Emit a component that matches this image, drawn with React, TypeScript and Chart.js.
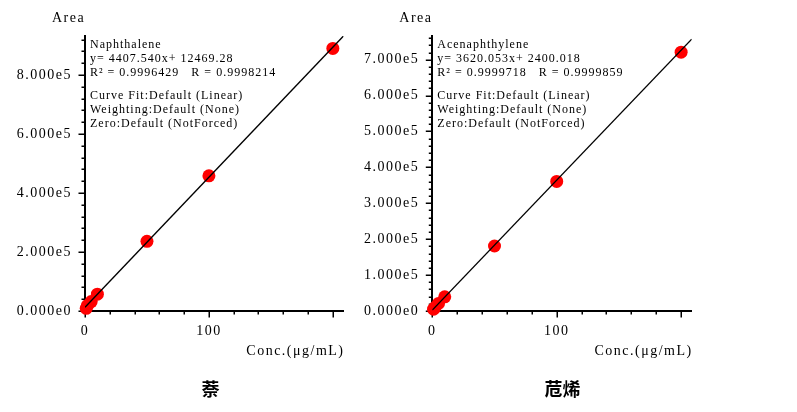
import React, { useEffect, useRef } from 'react';
import { Chart, registerables } from 'chart.js';

Chart.register(...registerables);

// ---------- data ----------
const concentrations = [1, 2, 5, 10, 50, 100, 200];
const naphthaleneAreas = [9000, 19000, 32000, 57000, 236000, 458000, 890000];
const acenaphthyleneAreas = [5000, 9500, 21000, 39500, 181000, 361000, 721000];

// calibration (fit) line end points
const naphFitX = [0, 208.6];
const naphFitY = [12469, 932000];
const acenFitX = [0, 208.5];
const acenFitY = [2400, 757200];

const xTickValues = [0, 100, 200];
const xTickLabels = ['0', '100', ''];
const naphYTickValues = [0, 200000, 400000, 600000, 800000];
const naphYTickLabels = ['0.000e0', '2.000e5', '4.000e5', '6.000e5', '8.000e5'];
const acenYTickValues = [0, 100000, 200000, 300000, 400000, 500000, 600000, 700000];
const acenYTickLabels = ['0.000e0', '1.000e5', '2.000e5', '3.000e5', '4.000e5', '5.000e5', '6.000e5', '7.000e5'];

const naphInfo = ['Naphthalene', 'y= 4407.540x+ 12469.28', 'R² = 0.9996429   R = 0.9998214'];
const acenInfo = ['Acenaphthylene', 'y= 3620.053x+ 2400.018', 'R² = 0.9999718   R = 0.9999859'];
const fitSettings = ['Curve Fit:Default (Linear)', 'Weighting:Default (None)', 'Zero:Default (NotForced)'];

const yAxisTitle = 'Area';
const xAxisTitle = 'Conc.(μg/mL)';

const SERIF = '"Liberation Serif", "DejaVu Serif", serif';

type PanelProps = {
  left: number;
  width: number;
  padRight: number;
  yWidth: number;
  xMax: number;
  yMax: number;
  yStep: number;
  yMinor: number;
  xs: number[];
  ys: number[];
  fitX: number[];
  fitY: number[];
  yTicks: number[];
  yLabels: string[];
  info: string[];
  title: string;
  titleX: number;
};

function Panel(p: PanelProps) {
  const ref = useRef<HTMLCanvasElement | null>(null);
  useEffect(() => {
    const canvas = ref.current;
    if (!canvas) return;
    const decor = {
      id: 'decor',
      beforeDraw(chart: any) {
        (chart.ctx as any).letterSpacing = '1.5px';
      },
      beforeDatasetsDraw(chart: any) {
        const ctx = chart.ctx as CanvasRenderingContext2D;
        const { chartArea } = chart;
        const xs = chart.scales.x;
        const ys = chart.scales.y;
        ctx.save();
        ctx.strokeStyle = '#000';
        ctx.lineWidth = 1.5;
        ctx.beginPath();
        for (let v = 0; v <= p.xMax + 1e-9; v += 20) {
          const px = Math.round(xs.getPixelForValue(v)) + 0.25;
          const len = Math.abs(v % 100) < 1e-6 ? 6.5 : 3.5;
          ctx.moveTo(px, chartArea.bottom);
          ctx.lineTo(px, chartArea.bottom + len);
        }
        for (let v = 0; v <= p.yMax + 1e-6; v += p.yMinor) {
          const py = Math.round(ys.getPixelForValue(v)) + 0.25;
          const major = Math.abs(v / p.yStep - Math.round(v / p.yStep)) < 1e-6;
          const len = major ? 6.5 : 3.5;
          ctx.moveTo(chartArea.left - len, py);
          ctx.lineTo(chartArea.left, py);
        }
        ctx.stroke();
        ctx.restore();
      },
      afterDraw(chart: any) {
        const ctx = chart.ctx as CanvasRenderingContext2D;
        const { chartArea } = chart;
        ctx.save();
        ctx.fillStyle = '#000';
        (ctx as any).letterSpacing = '1.5px';
        ctx.font = `14px ${SERIF}`;
        ctx.textBaseline = 'middle';
        ctx.textAlign = 'left';
        ctx.fillText(yAxisTitle, chartArea.left - 33, 18);
        ctx.textAlign = 'right';
        ctx.fillText(xAxisTitle, chartArea.right + 1, 351);
        // annotation block
        (ctx as any).letterSpacing = '1px';
        ctx.font = `12px ${SERIF}`;
        ctx.textAlign = 'left';
        const lines = [...p.info, ...fitSettings];
        const yPos = [44.5, 58.5, 72.5, 95.5, 109.5, 124];
        lines.forEach((t, i) => ctx.fillText(t, chartArea.left + 5, yPos[i]));
        // chinese title
        (ctx as any).letterSpacing = '0px';
        ctx.font = 'bold 18px "Noto Sans CJK SC", sans-serif';
        ctx.textAlign = 'center';
        ctx.fillText(p.title, p.titleX, 389);
        ctx.restore();
      },
    };

    const chart = new Chart(canvas, {
      type: 'scatter',
      data: {
        datasets: [
          {
            type: 'line',
            data: p.fitX.map((x, i) => ({ x, y: p.fitY[i] })),
            borderColor: '#000',
            borderWidth: 1.4,
            pointRadius: 0,
            fill: false,
          } as any,
          {
            data: p.xs.map((x, i) => ({ x, y: p.ys[i] })),
            backgroundColor: '#ff0000',
            borderWidth: 0,
            pointRadius: 6.5,
            clip: false,
          } as any,
        ],
      },
      options: {
        responsive: false,
        animation: false,
        events: [],
        layout: { padding: { top: 36, right: p.padRight, left: 0, bottom: 0 } },
        plugins: { legend: { display: false }, tooltip: { enabled: false }, title: { display: false } },
        scales: {
          x: {
            type: 'linear',
            min: 0,
            max: p.xMax,
            bounds: 'data',
            grid: { display: false, drawTicks: false },
            border: { display: true, color: '#000', width: 2 },
            afterBuildTicks: (s: any) => {
              s.ticks = xTickValues.map((v) => ({ value: v }));
            },
            afterFit: (s: any) => {
              s.height = 101;
              s.paddingLeft = 0;
              s.paddingRight = 0;
            },
            ticks: {
              padding: 12,
              color: '#000',
              font: { family: SERIF, size: 14 },
              maxRotation: 0,
              autoSkip: false,
              callback: (_v: any, i: number) => xTickLabels[i] ?? '',
            },
          },
          y: {
            type: 'linear',
            min: 0,
            max: p.yMax,
            bounds: 'data',
            grid: { display: false, drawTicks: false },
            border: { display: true, color: '#000', width: 2 },
            afterBuildTicks: (s: any) => {
              s.ticks = p.yTicks.map((v) => ({ value: v }));
            },
            afterFit: (s: any) => {
              s.width = p.yWidth;
              s.paddingTop = 0;
              s.paddingBottom = 0;
            },
            ticks: {
              padding: 13,
              color: '#000',
              font: { family: SERIF, size: 14 },
              autoSkip: false,
              callback: (_v: any, i: number) => p.yLabels[i] ?? '',
            },
          },
        },
      } as any,
      plugins: [decor as any],
    });
    return () => chart.destroy();
  }, []);
  return (
    <canvas
      ref={ref}
      width={p.width}
      height={412}
      style={{ position: 'absolute', left: p.left, top: 0, width: p.width, height: 412 }}
    />
  );
}

export default function App() {
  return (
    <div style={{ position: 'absolute', left: 0, top: 0, width: 797, height: 412, background: '#fff', overflow: 'hidden' }}>
      <Panel
        left={0}
        width={350}
        padRight={5}
        yWidth={85}
        xMax={208.6}
        yMax={932000}
        yStep={200000}
        yMinor={40000}
        xs={concentrations}
        ys={naphthaleneAreas}
        fitX={naphFitX}
        fitY={naphFitY}
        yTicks={naphYTickValues}
        yLabels={naphYTickLabels}
        info={naphInfo}
        title="萘"
        titleX={210.5}
      />
      <Panel
        left={347}
        width={450}
        padRight={105.3}
        yWidth={85.3}
        xMax={208.5}
        yMax={766000}
        yStep={100000}
        yMinor={20000}
        xs={concentrations}
        ys={acenaphthyleneAreas}
        fitX={acenFitX}
        fitY={acenFitY}
        yTicks={acenYTickValues}
        yLabels={acenYTickLabels}
        info={acenInfo}
        title="苊烯"
        titleX={215.5}
      />
    </div>
  );
}
